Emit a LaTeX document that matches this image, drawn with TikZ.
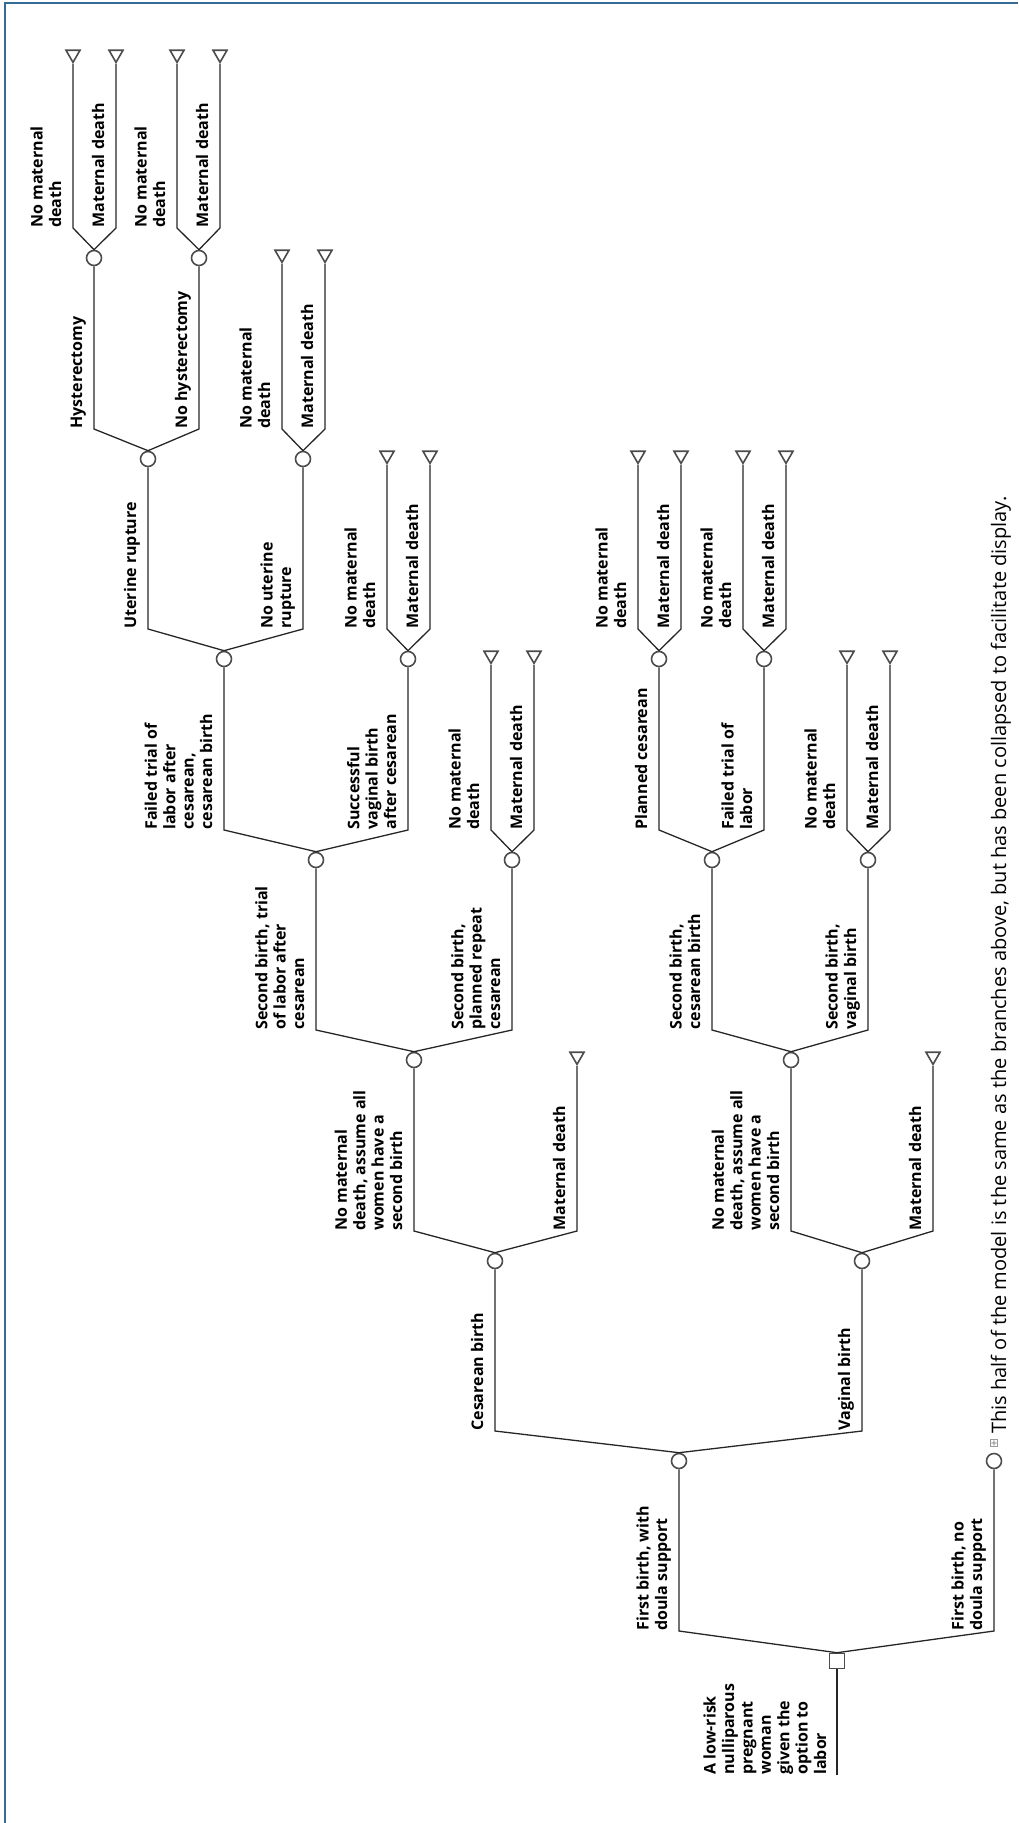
\documentclass[tikz,border=0pt]{standalone}
\usepackage{fontspec}
\setmainfont{Open Sans}
\newfontfamily\symfont{DejaVu Sans}
\usetikzlibrary{shapes.geometric}
\definecolor{framecol}{RGB}{52,108,150}

\begin{document}
\begin{tikzpicture}[x=0.5pt,y=-0.5pt,
  chance/.style={draw=black!70,circle,line width=0.8pt,fill=white,minimum size=7.5pt,inner sep=0pt},
  decide/.style={draw=black!70,rectangle,line width=0.8pt,fill=white,minimum size=7.5pt,inner sep=0pt},
  leaf/.style={draw=black!70,regular polygon,regular polygon sides=3,shape border rotate=180,line width=0.8pt,minimum size=8.1pt,inner sep=0pt,anchor=south},
  lbl/.style={rotate=90,anchor=south west,align=left,inner sep=0pt,text depth=0pt,font=\bfseries\fontsize{8}{9.2}\selectfont},
  br/.style={draw=black!85,line width=0.65pt,to path={(\tikztostart.north) -- ([yshift=15pt]\tikztotarget |- \tikztostart) -- (\tikztotarget.south)}}]

  \useasboundingbox (0,0) rectangle (1018,1823);
  \draw[framecol,line width=1pt] (5,1823) -- (5,3) -- (1018,3);

  \node[decide] (D0) at (837,1661) {};
  \coordinate (R0) at (837,1775);

  \node[chance] (C1) at (679,1461) {};
  \node[chance] (C2) at (994,1461) {};
  \node[chance] (C11) at (495,1261) {};
  \node[chance] (C12) at (862,1261) {};
  \node[chance] (C111) at (414,1060) {};
  \node[leaf] (T11) at (577,1066) {};
  \node[chance] (C121) at (791,1060) {};
  \node[leaf] (T12) at (933,1066) {};
  \node[chance] (C1111) at (316,860) {};
  \node[chance] (C1112) at (512,860) {};
  \node[chance] (C1211) at (712,860) {};
  \node[chance] (C1212) at (868,860) {};
  \node[chance] (C11111) at (224,659) {};
  \node[chance] (C11112) at (408,659) {};
  \node[leaf] (T1112a) at (491,665) {};
  \node[leaf] (T1112b) at (534,665) {};
  \node[chance] (C12111) at (659,659) {};
  \node[chance] (C12112) at (764,659) {};
  \node[leaf] (T1212a) at (847,665) {};
  \node[leaf] (T1212b) at (890,665) {};
  \node[chance] (H) at (148,459) {};
  \node[chance] (NUR) at (303,459) {};
  \node[leaf] (T11112a) at (387,465) {};
  \node[leaf] (T11112b) at (430,465) {};
  \node[leaf] (T12111a) at (638,465) {};
  \node[leaf] (T12111b) at (681,465) {};
  \node[leaf] (T12112a) at (743,465) {};
  \node[leaf] (T12112b) at (786,465) {};
  \node[chance] (HY) at (94,258) {};
  \node[chance] (NH) at (199,258) {};
  \node[leaf] (TNURa) at (282,264) {};
  \node[leaf] (TNURb) at (325,264) {};
  \node[leaf] (THYa) at (73,64) {};
  \node[leaf] (THYb) at (116,64) {};
  \node[leaf] (TNHa) at (177,64) {};
  \node[leaf] (TNHb) at (220,64) {};

  \draw[draw=black!85,line width=0.65pt] (D0.south) -- (R0);
  \draw (D0) edge[br] (C1);
  \draw (D0) edge[br] (C2);
  \draw (C1) edge[br] (C11);
  \draw (C1) edge[br] (C12);
  \draw (C11) edge[br] (C111);
  \draw (C11) edge[br] (T11);
  \draw (C12) edge[br] (C121);
  \draw (C12) edge[br] (T12);
  \draw (C111) edge[br] (C1111);
  \draw (C111) edge[br] (C1112);
  \draw (C121) edge[br] (C1211);
  \draw (C121) edge[br] (C1212);
  \draw (C1111) edge[br] (C11111);
  \draw (C1111) edge[br] (C11112);
  \draw (C1112) edge[br] (T1112a);
  \draw (C1112) edge[br] (T1112b);
  \draw (C1211) edge[br] (C12111);
  \draw (C1211) edge[br] (C12112);
  \draw (C1212) edge[br] (T1212a);
  \draw (C1212) edge[br] (T1212b);
  \draw (C11111) edge[br] (H);
  \draw (C11111) edge[br] (NUR);
  \draw (C11112) edge[br] (T11112a);
  \draw (C11112) edge[br] (T11112b);
  \draw (C12111) edge[br] (T12111a);
  \draw (C12111) edge[br] (T12111b);
  \draw (C12112) edge[br] (T12112a);
  \draw (C12112) edge[br] (T12112b);
  \draw (H) edge[br] (HY);
  \draw (H) edge[br] (NH);
  \draw (NUR) edge[br] (TNURa);
  \draw (NUR) edge[br] (TNURb);
  \draw (HY) edge[br] (THYa);
  \draw (HY) edge[br] (THYb);
  \draw (NH) edge[br] (TNHa);
  \draw (NH) edge[br] (TNHb);

  % branch texts
  \node[lbl] (L0) at ([xshift=-5.25pt]R0) {A low-risk\\nulliparous\\pregnant\\woman\\given the\\option to\\labor};
  \node[lbl] (L1) at ([xshift=-5.75pt,yshift=15pt]C1 |- D0) {First birth, with\\doula support};
  \node[lbl] (L2) at ([xshift=-5.75pt,yshift=15pt]C2 |- D0) {First birth, no\\doula support};
  \node[lbl] (L11) at ([xshift=-5.75pt,yshift=15pt]C11 |- C1) {Cesarean birth};
  \node[lbl] (L12) at ([xshift=-5.75pt,yshift=15pt]C12 |- C1) {Vaginal birth};
  \node[lbl] (L111) at ([xshift=-5.75pt,yshift=15pt]C111 |- C11) {No maternal\\death, assume all\\women have a\\second birth};
  \node[lbl] (LT11) at ([xshift=-5.75pt,yshift=15pt]T11 |- C11) {Maternal death};
  \node[lbl] (L121) at ([xshift=-5.75pt,yshift=15pt]C121 |- C12) {No maternal\\death, assume all\\women have a\\second birth};
  \node[lbl] (LT12) at ([xshift=-5.75pt,yshift=15pt]T12 |- C12) {Maternal death};
  \node[lbl] (L1111) at ([xshift=-5.75pt,yshift=15pt]C1111 |- C111) {Second birth, trial\\of labor after\\cesarean};
  \node[lbl] (L1112) at ([xshift=-5.75pt,yshift=15pt]C1112 |- C111) {Second birth,\\planned repeat\\cesarean};
  \node[lbl] (L1211) at ([xshift=-5.75pt,yshift=15pt]C1211 |- C121) {Second birth,\\cesarean birth};
  \node[lbl] (L1212) at ([xshift=-5.75pt,yshift=15pt]C1212 |- C121) {Second birth,\\vaginal birth};
  \node[lbl] (L11111) at ([xshift=-5.75pt,yshift=15pt]C11111 |- C1111) {Failed trial of\\labor after\\cesarean,\\cesarean birth};
  \node[lbl] (L11112) at ([xshift=-5.75pt,yshift=15pt]C11112 |- C1111) {Successful\\vaginal birth\\after cesarean};
  \node[lbl] (LT1112a) at ([xshift=-5.75pt,yshift=15pt]T1112a |- C1112) {No maternal\\death};
  \node[lbl] (LT1112b) at ([xshift=-5.75pt,yshift=15pt]T1112b |- C1112) {Maternal death};
  \node[lbl] (L12111) at ([xshift=-5.75pt,yshift=15pt]C12111 |- C1211) {Planned cesarean};
  \node[lbl] (L12112) at ([xshift=-5.75pt,yshift=15pt]C12112 |- C1211) {Failed trial of\\labor};
  \node[lbl] (LT1212a) at ([xshift=-5.75pt,yshift=15pt]T1212a |- C1212) {No maternal\\death};
  \node[lbl] (LT1212b) at ([xshift=-5.75pt,yshift=15pt]T1212b |- C1212) {Maternal death};
  \node[lbl] (LH) at ([xshift=-5.75pt,yshift=15pt]H |- C11111) {Uterine rupture};
  \node[lbl] (LNUR) at ([xshift=-5.75pt,yshift=15pt]NUR |- C11111) {No uterine\\rupture};
  \node[lbl] (LT11112a) at ([xshift=-5.75pt,yshift=15pt]T11112a |- C11112) {No maternal\\death};
  \node[lbl] (LT11112b) at ([xshift=-5.75pt,yshift=15pt]T11112b |- C11112) {Maternal death};
  \node[lbl] (LT12111a) at ([xshift=-5.75pt,yshift=15pt]T12111a |- C12111) {No maternal\\death};
  \node[lbl] (LT12111b) at ([xshift=-5.75pt,yshift=15pt]T12111b |- C12111) {Maternal death};
  \node[lbl] (LT12112a) at ([xshift=-5.75pt,yshift=15pt]T12112a |- C12112) {No maternal\\death};
  \node[lbl] (LT12112b) at ([xshift=-5.75pt,yshift=15pt]T12112b |- C12112) {Maternal death};
  \node[lbl] (LHY) at ([xshift=-5.75pt,yshift=15pt]HY |- H) {Hysterectomy};
  \node[lbl] (LNH) at ([xshift=-5.75pt,yshift=15pt]NH |- H) {No hysterectomy};
  \node[lbl] (LTNURa) at ([xshift=-5.75pt,yshift=15pt]TNURa |- NUR) {No maternal\\death};
  \node[lbl] (LTNURb) at ([xshift=-5.75pt,yshift=15pt]TNURb |- NUR) {Maternal death};
  \node[lbl] (LTHYa) at ([xshift=-5.75pt,yshift=15pt]THYa |- HY) {No maternal\\death};
  \node[lbl] (LTHYb) at ([xshift=-5.75pt,yshift=15pt]THYb |- HY) {Maternal death};
  \node[lbl] (LTNHa) at ([xshift=-5.75pt,yshift=15pt]TNHa |- NH) {No maternal\\death};
  \node[lbl] (LTNHb) at ([xshift=-5.75pt,yshift=15pt]TNHb |- NH) {Maternal death};

  % collapsed half
  \node[rotate=90,text=black!45,inner sep=0pt,font=\symfont\fontsize{6}{6}\selectfont] (plus) at (994,1443) {⊞};
  \node[rotate=90,anchor=base west,inner sep=0pt,font=\fontsize{10}{12}\selectfont] (note) at (1006,1434) {This half of the model is the same as the branches above, but has been collapsed to facilitate display.};
\end{tikzpicture}
\end{document}
